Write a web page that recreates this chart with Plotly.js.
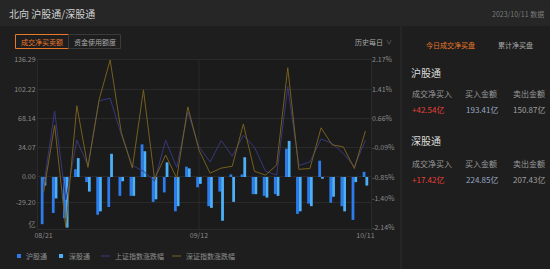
<!DOCTYPE html>
<html>
<head>
<meta charset="utf-8">
<script src="https://cdn.plot.ly/plotly-3.0.1.min.js"></script>
<style>
html,body{margin:0;padding:0;background:#1e1e1e;}
#chart{width:550px;height:269px;}
</style>
</head>
<body>
<div id="chart"></div>
<script>
// ---- data ----
const dates = ['08/21','08/22','08/23','08/24','08/25','08/28','08/29','08/30','08/31','09/01',
               '09/04','09/05','09/06','09/07','09/12','09/13','09/14','09/15','09/18','09/19',
               '09/20','09/21','09/22','09/25','09/26','09/27','09/28','10/09','10/10','10/11'];
// 沪股通 net buy (亿)
const shConnect = [-55,-42,-48,9,-6,-44,-35,-22,-22,38,-29,-18,-40,12,-12,-34,-17,3,3,-20,-22,-20,33,-43,-31,19,-30,-34,-50,6];
// 深股通 net buy (亿)
const szConnect = [-10,-25,-59,22,-17,-40,27,-5,-22,30,-26,17,-34,10,-8,-36,-51,-29,23,-20,-24,-22,42,-40,-34,-2,-23,-40,-6,-10];
// 上证指数涨跌幅 (%)
const shIndex = [-1.10,0.85,-1.44,0.10,-0.55,1.12,1.18,0.25,-0.55,-0.70,-0.95,0.10,-0.60,0.83,-0.07,-0.46,0.09,-0.31,0.23,-0.08,-0.70,-0.80,1.48,-0.55,-0.46,0.13,0.02,-0.24,-0.58,0.10];
// 深证指数涨跌幅 (%)
const szIndex = [-1.25,0.49,-2.14,0.99,-0.60,1.14,2.17,0.30,-0.62,1.40,-0.90,-0.28,-0.88,0.96,-0.15,-0.75,-0.62,-0.57,0.52,-0.70,-0.80,-0.54,1.97,-0.65,-0.63,0.42,-0.02,-0.07,-0.63,0.34];
const leftTicks = [136.29,102.22,68.14,34.07,0,-29.20,-55];
const leftTickText = ['136.29','102.22','68.14','34.07','0.00','-29.20','亿'];
const rightTicks = [2.17,1.41,0.66,-0.09,-0.85,-1.40,-2.14];
const rightTickText = ['2.17%','1.41%','0.66%','-0.09%','-0.85%','-1.40%','-2.14%'];
const xTicks = ['08/21','09/12','10/11'];
const seriesNames = ['沪股通','深股通','上证指数涨跌幅','深证指数涨跌幅'];
const shStats = {net:'+42.54亿', buy:'193.41亿', sell:'150.87亿'};
const szStats = {net:'+17.42亿', buy:'224.85亿', sell:'207.43亿'};

// ---- style ----
const W=550,H=269,ML=38,MR=179,MT=60,MB=40;
const PW=W-ML-MR, PH=H-MT-MB;
const fx = x => (x-ML)/PW;
const fy = y => (H-MB-y)/PH;
const FONT = '"Noto Sans CJK SC","Noto Sans",sans-serif';
const C_SH='#2d7cee', C_SZ='#4cb0f8', C_SHI='#36387e', C_SZI='#76601e';
const ORANGE='#e8782a', GRID='#2a2a2a';

const traces = [
  {type:'bar', x:dates, y:shConnect, name:seriesNames[0], marker:{color:C_SH}, yaxis:'y'},
  {type:'bar', x:dates, y:szConnect, name:seriesNames[1], marker:{color:C_SZ}, yaxis:'y'},
  {type:'scatter', mode:'lines', x:dates, y:shIndex, name:seriesNames[2], line:{color:C_SHI,width:1}, yaxis:'y2'},
  {type:'scatter', mode:'lines', x:dates, y:szIndex, name:seriesNames[3], line:{color:C_SZI,width:1}, yaxis:'y2'}
];

function ann(x,y,text,size,color,anchor){
  return {xref:'paper',yref:'paper',x:fx(x),y:fy(y),text:text,showarrow:false,
          xanchor:anchor||'left',yanchor:'middle',font:{family:FONT,size:size,color:color},borderpad:0};
}
function rect(x0,y0,x1,y1,fill,line){
  return {type:'rect',xref:'paper',yref:'paper',x0:fx(x0),x1:fx(x1),y0:fy(y1),y1:fy(y0),
          fillcolor:fill||'rgba(0,0,0,0)',line:{color:line||'rgba(0,0,0,0)',width:line?1:0},layer:'below'};
}
function hline(x0,x1,y,color){
  return {type:'line',xref:'paper',yref:'paper',x0:fx(x0),x1:fx(x1),y0:fy(y),y1:fy(y),line:{color:color,width:1}};
}
function vline(x,y0,y1,color){
  return {type:'line',xref:'paper',yref:'paper',x0:fx(x),x1:fx(x),y0:fy(y0),y1:fy(y1),line:{color:color,width:1},layer:'below'};
}

const shapes = [
  rect(0,0,550,26,'#262626'),
  vline(401,26,269,'#2c2c2c'),
  rect(15.5,34.5,68.5,48.5,null,ORANGE),
  rect(68.5,34.5,120.5,48.5,null,'#3a3a3a'),
  {type:'line',xref:'x',yref:'paper',x0:'09/12',x1:'09/12',y0:0,y1:1,line:{color:GRID,width:1},layer:'below'},
  // legend icons
  rect(17,254,21,258,C_SH),
  rect(59,254,63,258,C_SZ),
  hline(101,110,256,C_SHI),
  hline(172,181,256,C_SZI)
];

const annotations = [
  ann(8,14,'北向 沪股通/深股通',10,'#d2d2d2'),
  ann(545,14,'2023/10/11 数据',7,'#7a7a7a','right'),
  ann(42,41.5,'成交净买卖额',7,ORANGE,'center'),
  ann(94.5,41.5,'资金使用额度',7,'#a8a8a8','center'),
  ann(354,41.5,'历史每日',7,'#a8a8a8'),
  ann(385,41.5,'∨',6,'#777777'),
  ann(450,44.5,'今日成交净买盘',7,ORANGE,'center'),
  ann(515.5,44.5,'累计净买盘',7,'#a8a8a8','center'),
  ann(410,72.5,'沪股通',10,'#dddddd'),
  ann(410.5,93,'成交净买入',8,'#9a9a9a'),
  ann(464,93,'买入金额',8,'#9a9a9a'),
  ann(511.5,93,'卖出金额',8,'#9a9a9a'),
  ann(411,109,shStats.net,8,'#e8403a'),
  ann(464.5,109,shStats.buy,8,'#9aa6c2'),
  ann(511.5,109,shStats.sell,8,'#a0a0a0'),
  ann(410,140.5,'深股通',10,'#dddddd'),
  ann(410.5,163,'成交净买入',8,'#9a9a9a'),
  ann(464,163,'买入金额',8,'#9a9a9a'),
  ann(511.5,163,'卖出金额',8,'#9a9a9a'),
  ann(411,179.5,szStats.net,8,'#e8403a'),
  ann(464.5,179.5,szStats.buy,8,'#9aa6c2'),
  ann(511.5,179.5,szStats.sell,8,'#a0a0a0'),
  // legend
  ann(25,256,seriesNames[0],7,'#8e8e8e'),
  ann(67.5,256,seriesNames[1],7,'#8e8e8e'),
  ann(114,256,seriesNames[2],7,'#8e8e8e'),
  ann(184.5,256,seriesNames[3],7,'#8e8e8e')
];

const tickFont = {family:FONT,size:7,color:'#8a8a8a'};
const layout = {
  width:W,height:H,
  margin:{l:ML,r:MR,t:MT,b:MB,pad:0},
  paper_bgcolor:'#1e1e1e',
  plot_bgcolor:'#1b1b1b',
  showlegend:false,
  barmode:'group',
  bargap:0.5,
  bargroupgap:0,
  font:{family:FONT},
  xaxis:{type:'category',range:[-0.5,dates.length-0.5],tickmode:'array',tickvals:xTicks,ticktext:xTicks,
         tickfont:tickFont,showgrid:false,zeroline:false,showline:true,mirror:true,linecolor:GRID,linewidth:1,
         ticks:'',fixedrange:true},
  yaxis:{range:[-60.6,136.29],tickmode:'array',tickvals:leftTicks,ticktext:leftTickText,tickfont:tickFont,
         showgrid:false,zeroline:false,showline:true,mirror:true,linecolor:GRID,ticks:'',
         minor:{tickmode:'array',tickvals:leftTicks.slice(0,6),showgrid:true,gridcolor:GRID,gridwidth:1,ticks:''}},
  yaxis2:{range:[-2.19,2.17],overlaying:'y',side:'right',tickmode:'array',tickvals:rightTicks,ticktext:rightTickText,
          tickfont:tickFont,showgrid:false,zeroline:false,showline:false,ticks:''},
  shapes:shapes,
  annotations:annotations
};
Plotly.newPlot('chart',traces,layout,{displayModeBar:false,staticPlot:true});
</script>
</body>
</html>
